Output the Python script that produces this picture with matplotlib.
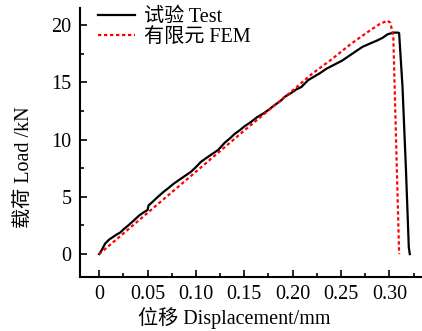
import matplotlib
matplotlib.use("Agg")
import matplotlib.pyplot as plt
from matplotlib.ticker import MultipleLocator

plt.rcParams['font.family'] = ['Liberation Serif', 'Noto Sans CJK SC']
plt.rcParams['font.size'] = 14.5

# Load-displacement curve from the test
test_disp = [0, 0.003, 0.006, 0.010, 0.017, 0.022, 0.025, 0.030, 0.036, 0.041,
             0.046, 0.050, 0.051, 0.055, 0.060, 0.066, 0.072, 0.077, 0.083, 0.089,
             0.095, 0.100, 0.105, 0.110, 0.116, 0.123, 0.130, 0.135, 0.140, 0.145,
             0.150, 0.157, 0.163, 0.170, 0.175, 0.181, 0.187, 0.192, 0.198, 0.204,
             0.209, 0.216, 0.222, 0.228, 0.235, 0.243, 0.251, 0.258, 0.265, 0.272,
             0.280, 0.287, 0.293, 0.298, 0.304, 0.309, 0.310, 0.3135, 0.317, 0.320,
             0.321]
test_load = [0, 0.4, 0.9, 1.25, 1.65, 1.9, 2.15, 2.5, 2.95, 3.35,
             3.65, 3.85, 4.25, 4.55, 4.95, 5.4, 5.8, 6.15, 6.5, 6.85,
             7.2, 7.6, 8.05, 8.35, 8.7, 9.1, 9.75, 10.1, 10.5, 10.8,
             11.15, 11.55, 11.95, 12.3, 12.6, 13.0, 13.35, 13.75, 14.05, 14.4,
             14.6, 15.2, 15.5, 15.8, 16.2, 16.55, 16.9, 17.3, 17.7, 18.1,
             18.4, 18.65, 18.9, 19.2, 19.35, 19.35, 19.3, 14.6, 7.5, 0.6,
             0.0]

# Finite element prediction
fem_disp = [0, 0.05, 0.10, 0.15, 0.20, 0.22, 0.24, 0.26, 0.28, 0.29,
            0.298, 0.301, 0.304, 0.307, 0.310]
fem_load = [0, 3.6, 7.2, 10.8, 14.3, 15.75, 17.0, 18.35, 19.55, 20.1,
            20.4, 20.2, 19.0, 9.4, 0.0]

fig = plt.figure(figsize=(4.22, 3.31), dpi=100)
ax = fig.add_axes([80 / 422, 54 / 331, 1 - 80 / 422 + 0.01, (277 - 8) / 331])

ax.plot(test_disp, test_load, color='black', lw=1.6, label='试验 Test')
ax.plot(fem_disp, fem_load, color='red', lw=1.6, linestyle=(0, (1.5, 1.2)),
        label='有限元 FEM')

ax.set_xlim(-0.0198, 0.338)
ax.set_ylim(-2.0, 21.5)
ax.xaxis.set_minor_locator(MultipleLocator(0.025))
ax.yaxis.set_minor_locator(MultipleLocator(2.5))
ax.set_xticks([0, 0.05, 0.10, 0.15, 0.20, 0.25, 0.30])
ax.set_xticklabels(['0', '0.05', '0.10', '0.15', '0.20', '0.25', '0.30'])
ax.set_yticks([0, 5, 10, 15, 20])
ax.set_yticklabels(['0', '5', '10', '15', '20'])

ax.tick_params(which='major', direction='in', length=5, width=1.2, pad=6)
ax.tick_params(which='minor', direction='in', length=3, width=1.2)
ax.tick_params(axis='x', which='both', top=False)
ax.tick_params(axis='y', which='both', right=False)

for side in ('top', 'right'):
    ax.spines[side].set_visible(False)
for side in ('left', 'bottom'):
    ax.spines[side].set_linewidth(1.5)

ax.set_xlabel('位移 Displacement/mm')
ax.set_ylabel('载荷 Load /kN')
ax.xaxis.set_label_coords((232 - 80) / 342, -(307 - 277) / 269)
ax.yaxis.set_label_coords(-(80 - 35) / 342, (277 - 167) / 269)

leg = ax.legend(loc='upper left', bbox_to_anchor=(0.03, 1.03), frameon=False,
                handlelength=1.8, handletextpad=0.45, labelspacing=0.05,
                borderaxespad=0)

fig.savefig('out.png', dpi=100)
